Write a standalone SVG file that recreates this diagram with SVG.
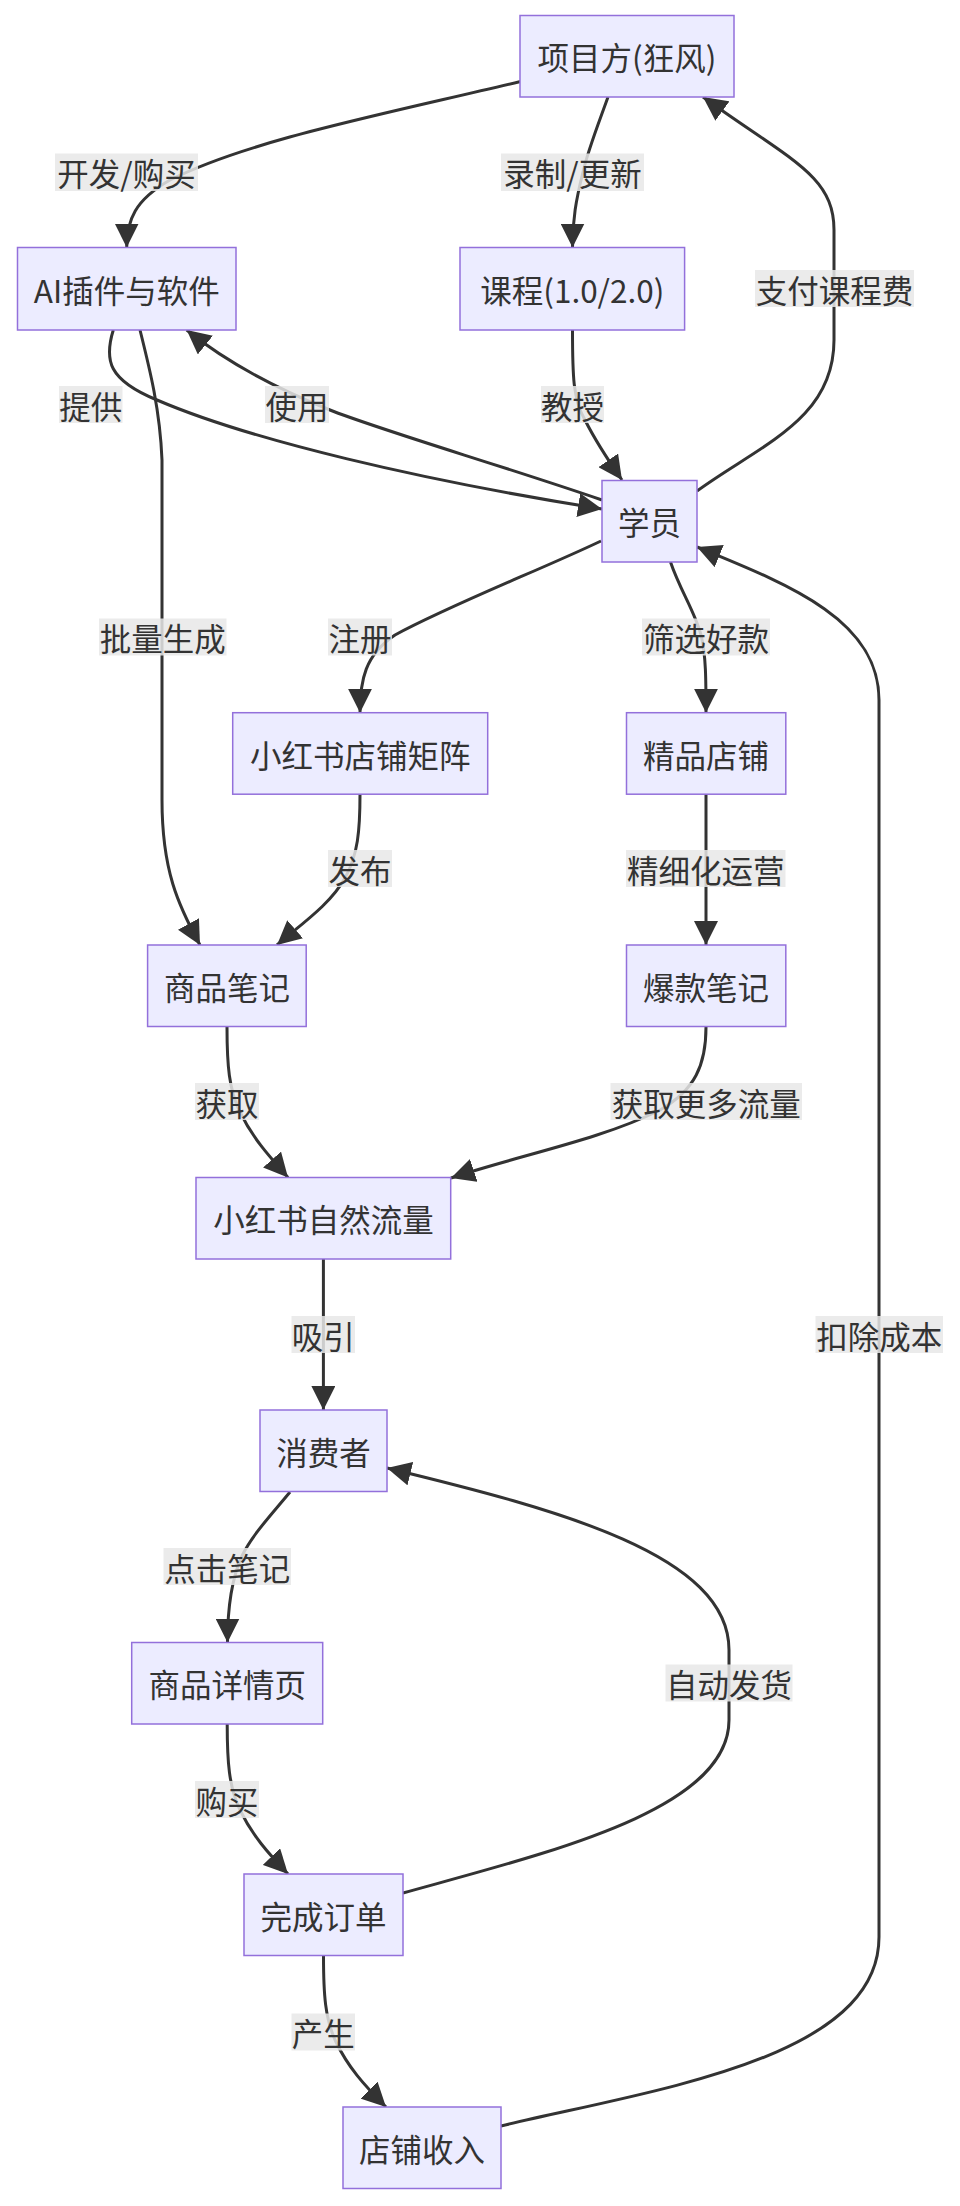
<svg xmlns="http://www.w3.org/2000/svg" width="960" height="2206" viewBox="0 0 960 2206">
<style>
.node rect{fill:#ECECFF;stroke:#9370DB;stroke-width:1.5}
.node text,.lbl text{font-family:"Noto Sans CJK SC","Noto Sans",sans-serif;font-size:31.5px;fill:#333;text-anchor:middle;dominant-baseline:central}
.edge{fill:none;stroke:#333;stroke-width:3;marker-end:url(#arr)}
.lbl rect{fill:#e8e8e8;fill-opacity:0.85}
</style>
<defs>
<marker id="arr" viewBox="0 0 10 10" refX="10" refY="5" markerUnits="userSpaceOnUse" markerWidth="24" markerHeight="24" orient="auto">
<path d="M0,0 L10,5 L0,10 z" fill="#333"/>
</marker>
</defs>
<rect width="960" height="2206" fill="#fff"/>
<g id="connectors">
<path class="edge" d="M520.5,81.5 C380,115 250,140 170,180 C135,200 126.7,220 126.7,247.5"/>
<path class="edge" d="M608,97 C598,125 588,150 583,172 C576,200 572.5,220 572.5,247.5"/>
<path class="edge" d="M697,491 C760,445 834,420 834,340 L834,230 C834,175 790,160 703,97"/>
<path class="edge" d="M572.5,330 C572.5,375 573,400 585,420 C595,440 608,460 622,480"/>
<path class="edge" d="M113.3,330 C104,360 108,380 157,400 C250,440 420,480 602,509"/>
<path class="edge" d="M602,500 C500,465 380,430 330,410 C280,390 230,365 186.7,330"/>
<path class="edge" d="M140,330 C150,370 160,410 162,460 L162,800 C162,870 178,905 200,945"/>
<path class="edge" d="M601,541 C540,570 450,605 395,635 C365,655 360,680 360,712.7"/>
<path class="edge" d="M670.5,562 C680,590 695,612 701,635 C706,655 706,680 706,712.7"/>
<path class="edge" d="M360,794 C360,830 358,855 345,878 C330,905 300,925 277,945"/>
<path class="edge" d="M706,794 L706,945"/>
<path class="edge" d="M227,1027 C227,1065 229,1090 240,1112 C252,1137 268,1155 288,1177.5"/>
<path class="edge" d="M706,1027 C706,1065 695,1090 660,1110 C600,1140 520,1155 451,1178"/>
<path class="edge" d="M323.4,1259 L323.4,1410"/>
<path class="edge" d="M290,1492 C272,1514 252,1535 242,1556 C231,1580 227.5,1610 227.5,1642.5"/>
<path class="edge" d="M403,1893 C550,1852 729,1810 729,1720 L729,1650 C729,1555 560,1510 387,1468"/>
<path class="edge" d="M227.2,1724 C227.2,1762 229,1787 240,1810 C252,1835 268,1853 288,1874"/>
<path class="edge" d="M323.5,1956 C323.5,1994 325,2019 336,2042 C348,2067 364,2085 386,2107"/>
<path class="edge" d="M501,2126 C650,2090 879,2060 879,1937 L879,700 C879,620 790,585 697,547"/>
</g>
<g id="nodes">
<g id="A" class="node"><rect x="520" y="15.5" width="214" height="81.5"/><text x="627" y="56">项目方(狂风)</text></g>
<g id="B" class="node"><rect x="17.5" y="247.5" width="218.5" height="82.5"/><text x="126.7" y="289">AI插件与软件</text></g>
<g id="C" class="node"><rect x="460" y="247.5" width="224.6" height="82.5"/><text x="572.3" y="289">课程(1.0/2.0)</text></g>
<g id="D" class="node"><rect x="602" y="480.5" width="95" height="81.5"/><text x="649.5" y="521">学员</text></g>
<g id="E" class="node"><rect x="232.7" y="712.7" width="255" height="81.5"/><text x="360.2" y="753.5">小红书店铺矩阵</text></g>
<g id="F" class="node"><rect x="626.5" y="712.7" width="159.3" height="81.5"/><text x="706" y="753.5">精品店铺</text></g>
<g id="G" class="node"><rect x="147.6" y="945" width="158.6" height="81.5"/><text x="227" y="986">商品笔记</text></g>
<g id="H" class="node"><rect x="626.5" y="945" width="159.3" height="81.5"/><text x="706" y="986">爆款笔记</text></g>
<g id="I" class="node"><rect x="196" y="1177.5" width="254.7" height="81.5"/><text x="323.4" y="1218">小红书自然流量</text></g>
<g id="J" class="node"><rect x="260" y="1410" width="127" height="81.5"/><text x="323.5" y="1451">消费者</text></g>
<g id="K" class="node"><rect x="131.7" y="1642.5" width="191" height="81.5"/><text x="227.2" y="1683">商品详情页</text></g>
<g id="L" class="node"><rect x="244" y="1874" width="159" height="81.5"/><text x="323.5" y="1915">完成订单</text></g>
<g id="M" class="node"><rect x="343" y="2107" width="158" height="81.5"/><text x="422" y="2148">店铺收入</text></g>
</g>
<g id="edge-labels">
<g class="lbl"><rect x="55" y="153.5" width="143" height="37.5"/><text x="126.5" y="172.3">开发/购买</text></g>
<g class="lbl"><rect x="501" y="153.5" width="143" height="37.5"/><text x="572.5" y="172.3">录制/更新</text></g>
<g class="lbl"><rect x="755" y="270" width="159" height="37"/><text x="834.5" y="288.5">支付课程费</text></g>
<g class="lbl"><rect x="59" y="386" width="63.5" height="37"/><text x="90.7" y="404.5">提供</text></g>
<g class="lbl"><rect x="265" y="386" width="64" height="37"/><text x="297" y="404.5">使用</text></g>
<g class="lbl"><rect x="541" y="386" width="63" height="37"/><text x="572.5" y="404.5">教授</text></g>
<g class="lbl"><rect x="99" y="618.5" width="127.5" height="37"/><text x="162.7" y="637">批量生成</text></g>
<g class="lbl"><rect x="328" y="618.5" width="64" height="37"/><text x="360" y="637">注册</text></g>
<g class="lbl"><rect x="642" y="618.5" width="128" height="37"/><text x="706" y="637">筛选好款</text></g>
<g class="lbl"><rect x="328" y="850" width="64" height="37"/><text x="360" y="868.5">发布</text></g>
<g class="lbl"><rect x="626" y="850" width="159.5" height="37"/><text x="705.7" y="868.5">精细化运营</text></g>
<g class="lbl"><rect x="195" y="1083" width="64" height="37"/><text x="227" y="1101.5">获取</text></g>
<g class="lbl"><rect x="610.5" y="1083" width="191.5" height="37"/><text x="706.2" y="1101.5">获取更多流量</text></g>
<g class="lbl"><rect x="291.5" y="1316" width="63.5" height="37"/><text x="323.2" y="1334.5">吸引</text></g>
<g class="lbl"><rect x="815.5" y="1316" width="127.5" height="37"/><text x="879.2" y="1334.5">扣除成本</text></g>
<g class="lbl"><rect x="163.5" y="1548" width="127.5" height="37"/><text x="227.2" y="1566.5">点击笔记</text></g>
<g class="lbl"><rect x="665.5" y="1664.5" width="127" height="37"/><text x="729" y="1683">自动发货</text></g>
<g class="lbl"><rect x="195" y="1781" width="64" height="37"/><text x="227" y="1799.5">购买</text></g>
<g class="lbl"><rect x="291.5" y="2013.5" width="63.5" height="37"/><text x="323.2" y="2032">产生</text></g>
</g>
</svg>
